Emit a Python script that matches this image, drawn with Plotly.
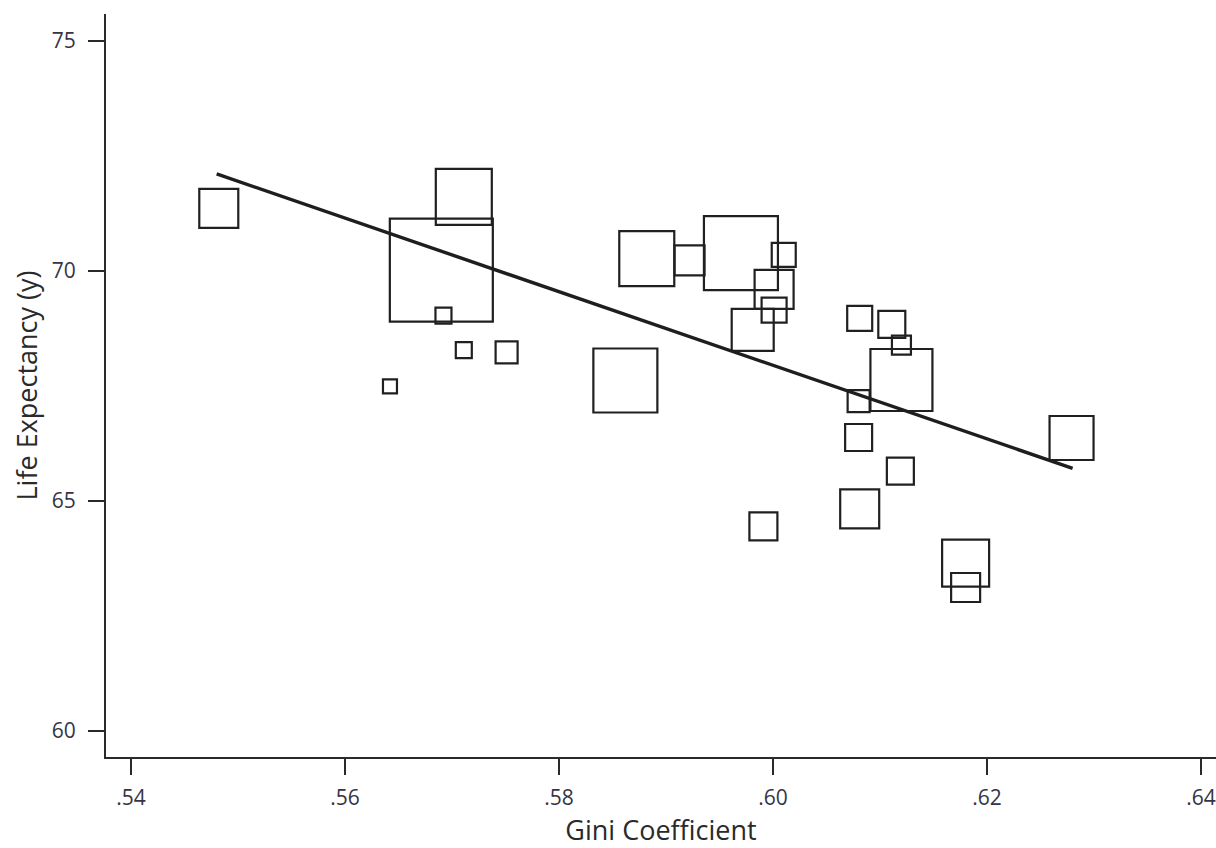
import plotly.graph_objects as go

# Data
gini = [0.5482, 0.5711, 0.5690, 0.5692, 0.5711, 0.5751, 0.5642, 0.5862, 0.5882,
        0.5922, 0.5970, 0.6010, 0.6001, 0.6001, 0.5981, 0.6081, 0.6111, 0.6120,
        0.6120, 0.6080, 0.6080, 0.6119, 0.6081, 0.5991, 0.6279, 0.6180, 0.6180]
life_exp = [71.36, 71.61, 70.02, 69.03, 68.28, 68.23, 67.49, 67.62, 70.27,
            70.23, 70.39, 70.35, 69.60, 69.15, 68.72, 68.97, 68.84, 68.39,
            67.63, 67.17, 66.38, 65.65, 64.83, 64.45, 66.37, 63.65, 63.12]
weight = [39, 56, 103, 16, 16, 22, 14, 64, 55, 30, 74, 24, 39, 25, 42, 25, 27, 19,
          62, 22, 27, 27, 39, 28, 44, 47, 29]

fit_x = [0.5480, 0.6280]
fit_y = [72.11, 65.71]

x_ticks = [0.54, 0.56, 0.58, 0.60, 0.62, 0.64]
x_ticklabels = [".54", ".56", ".58", ".60", ".62", ".64"]
y_ticks = [60, 65, 70, 75]

ink = "#2a2a2a"
font_family = "Open Sans, Lato, sans-serif"

fig = go.Figure()
fig.add_trace(go.Scatter(
    x=gini, y=life_exp, mode="markers",
    marker=dict(symbol="square-open", size=weight, color="#202020", opacity=1,
                line=dict(width=2.2, color="#202020")),
    showlegend=False, hoverinfo="x+y",
))
fig.add_trace(go.Scatter(
    x=fit_x, y=fit_y, mode="lines",
    line=dict(color="#1e1e1e", width=3.4),
    showlegend=False,
))

fig.update_layout(
    width=1216, height=848,
    margin=dict(l=106, r=0, t=14, b=91),
    paper_bgcolor="white", plot_bgcolor="white",
    font=dict(family=font_family, color=ink),
    xaxis=dict(
        range=[0.53766, 0.6414], tickvals=x_ticks, ticktext=x_ticklabels,
        showgrid=False, zeroline=False, showline=True, linecolor=ink, linewidth=2,
        ticks="outside", ticklen=16, tickwidth=2, tickcolor=ink,
        tickfont=dict(size=21, color="#353545"), ticklabelstandoff=5,
        title=dict(text="Gini Coefficient", font=dict(size=27, color=ink), standoff=6),
    ),
    yaxis=dict(
        range=[59.4348, 75.587], tickvals=y_ticks,
        showgrid=False, zeroline=False, showline=True, linecolor=ink, linewidth=2,
        ticks="outside", ticklen=16, tickwidth=2, tickcolor=ink,
        tickfont=dict(size=21, color="#353545"), ticklabelstandoff=8,
        title=dict(text="Life Expectancy (y)", font=dict(size=27, color=ink), standoff=6),
    ),
)

fig.write_html("out.html")
